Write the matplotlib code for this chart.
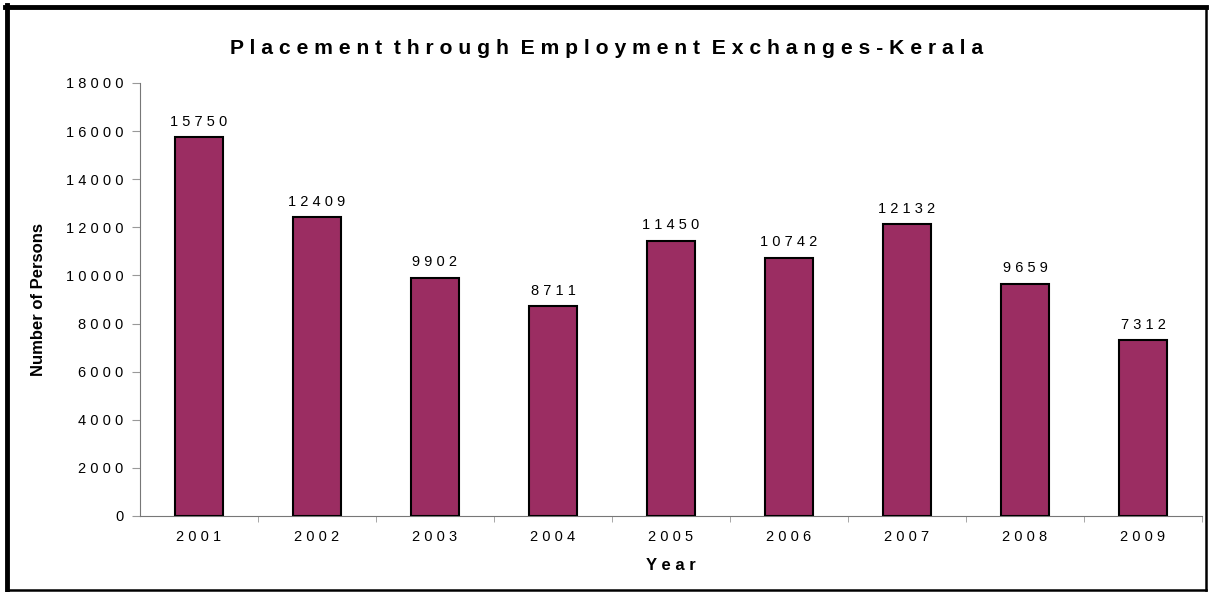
import matplotlib.pyplot as plt
from matplotlib.lines import Line2D

years = ['2001', '2002', '2003', '2004', '2005', '2006', '2007', '2008', '2009']
placements = [15750, 12409, 9902, 8711, 11450, 10742, 12132, 9659, 7312]
y_ticks = [0, 2000, 4000, 6000, 8000, 10000, 12000, 14000, 16000, 18000]

plt.rcParams['font.family'] = ['Liberation Sans', 'DejaVu Sans']


def spaced(s):
    # widen the letters the way the old spreadsheet chart did
    return '  '.join(' '.join(w) for w in s.split(' '))


fig = plt.figure(figsize=(12.09, 5.92), dpi=100)
ax = fig.add_axes([0.1158, 0.1284, 0.8784, 0.7314])

pos = range(len(years))
ax.bar(pos, placements, width=0.41, color='#9b2d62', edgecolor='black', linewidth=1.5, zorder=3)
for i, v in zip(pos, placements):
    ax.text(i, v + 350, spaced(str(v)), ha='center', va='bottom', fontsize=10.5)

ax.set_xlim(-0.5, len(years) - 0.5)
ax.set_ylim(0, 18000)
ax.set_yticks(y_ticks)
ax.set_yticklabels([spaced(str(t)) for t in y_ticks], fontsize=10.5)
ax.set_xticks(list(pos))
ax.set_xticklabels([spaced(y) for y in years], fontsize=10.5)
ax.set_xticks([i + 0.5 for i in pos], minor=True)
ax.tick_params(axis='y', length=6, color='#999999', pad=6)
ax.tick_params(axis='x', which='major', length=0, pad=10)
ax.tick_params(axis='x', which='minor', length=4, color='#999999')

for side in ['top', 'right']:
    ax.spines[side].set_visible(False)
ax.spines['left'].set_color('#777777')
ax.spines['bottom'].set_color('#777777')

ax.set_xlabel(spaced('Year'), fontsize=12, fontweight='bold', labelpad=10)
ax.set_ylabel('Number of Persons', fontsize=12, fontweight='bold', labelpad=14)
fig.text(0.502, 0.918, spaced('Placement through Employment Exchanges-Kerala'),
         ha='center', va='center', fontsize=15.2, fontweight='bold')

# heavy frame around the chart
W, H = 1209, 592
fig.add_artist(Line2D([7 / W, 7 / W], [0.003, 1 - 5 / H], color='black', lw=3.5))
fig.add_artist(Line2D([5 / W, 1206 / W], [1 - 7 / H, 1 - 7 / H], color='black', lw=3.5))
fig.add_artist(Line2D([1206 / W, 1206 / W], [1 - 7 / H, 2 / H], color='black', lw=1.8))
fig.add_artist(Line2D([7 / W, 1206 / W], [2 / H, 2 / H], color='black', lw=1.8))

fig.savefig('out.png', dpi=100)
